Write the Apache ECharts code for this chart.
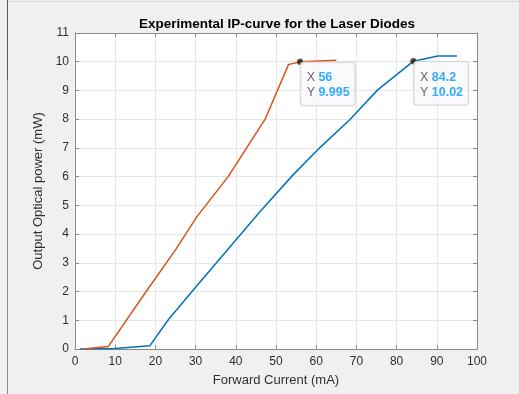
<!DOCTYPE html>
<html>
<head>
<meta charset="utf-8">
<script src="https://cdn.jsdelivr.net/npm/echarts@6/dist/echarts.min.js"></script>
<style>
html,body{margin:0;padding:0;background:#f0f0f0;}
#c{width:519px;height:394px;}
</style>
</head>
<body>
<div id="c"></div>
<script>
// ---- data ----
var titleText = 'Experimental IP-curve for the Laser Diodes';
var xName = 'Forward Current (mA)';
var yName = 'Output Optical power (mW)';

var blueX = [1.2, 10, 18.6, 23.2, 30, 38, 46, 54.3, 61, 68.4, 75.3, 84.2, 90.3, 95];
var blueY = [0, 0.02, 0.11, 1.02, 2.15, 3.46, 4.78, 6.07, 7.02, 7.99, 9.02, 10.02, 10.2, 10.2];

var orangeX = [2, 8.3, 17.4, 25, 30.3, 38.1, 42.7, 47.3, 53.1, 56, 65];
var orangeY = [0, 0.09, 1.94, 3.45, 4.6, 6.0, 7.0, 8.0, 9.9, 9.995, 10.05];

var tipBlue = [84.2, 10.02];
var tipOrange = [56, 9.995];

var blueColor = '#0072BD';
var orangeColor = '#D95319';

function pairs(xs, ys){ return xs.map(function(x,i){ return [x, ys[i]]; }); }

var chart = echarts.init(document.getElementById('c'), null, {renderer:'canvas'});

var axisColor = '#8a8a8a';
var labelColor = '#303030';
var fontFam = '"Liberation Sans", Arial, Helvetica, sans-serif';

function tipLabel(){
  return {
    show: true,
    position: [4, 4],
    formatter: function(p){
      return '{k|X} {v|' + p.value[0] + '}\n{k|Y} {v|' + p.value[1] + '}';
    },
    backgroundColor: '#f9f9fc',
    borderColor: '#c9c9c9',
    borderWidth: 1,
    borderRadius: 3,
    padding: [8, 5, 5, 6],
    lineHeight: 15,
    rich: {
      k: { color: '#404040', fontSize: 12.5, fontFamily: fontFam, lineHeight: 15 },
      v: { color: '#0096FF', fontSize: 12.5, fontWeight: 'bold', fontFamily: fontFam, lineHeight: 15 }
    }
  };
}

var option = {
  backgroundColor: '#f0f0f0',
  animation: false,
  title: {
    text: titleText,
    left: 134, top: 12,
    textStyle: { fontSize: 13.5, fontWeight: 'bold', color: '#000', fontFamily: fontFam }
  },
  grid: { left: 75, right: 42, top: 33, bottom: 45, show: true, backgroundColor: '#ffffff', borderWidth: 0 },
  xAxis: [{
    type: 'value', min: 0, max: 100, interval: 10,
    name: xName, nameLocation: 'middle', nameGap: 25,
    nameTextStyle: { fontSize: 13, color: labelColor, fontFamily: fontFam },
    axisLine: { show: true, onZero: false, lineStyle: { color: axisColor, width: 1 } },
    axisTick: { show: true, inside: true, length: 4, lineStyle: { color: axisColor } },
    axisLabel: { color: labelColor, fontSize: 12, margin: 7, fontFamily: fontFam },
    splitLine: { show: true, lineStyle: { color: '#e6e6e6', width: 1 } }
  }, {
    type: 'value', position: 'top', min: 0, max: 100, interval: 10,
    axisLine: { show: true, onZero: false, lineStyle: { color: axisColor, width: 1 } },
    axisTick: { show: true, inside: true, length: 4, lineStyle: { color: axisColor } },
    axisLabel: { show: false }, splitLine: { show: false }
  }],
  yAxis: [{
    type: 'value', min: 0, max: 11, interval: 1,
    name: yName, nameLocation: 'middle', nameGap: 21,
    nameTextStyle: { fontSize: 13, color: labelColor, fontFamily: fontFam },
    axisLine: { show: true, onZero: false, lineStyle: { color: axisColor, width: 1 } },
    axisTick: { show: true, inside: true, length: 4, lineStyle: { color: axisColor } },
    axisLabel: { color: labelColor, fontSize: 12, margin: 6, fontFamily: fontFam },
    splitLine: { show: true, lineStyle: { color: '#e6e6e6', width: 1 } }
  }, {
    type: 'value', position: 'right', min: 0, max: 11, interval: 1,
    axisLine: { show: true, onZero: false, lineStyle: { color: axisColor, width: 1 } },
    axisTick: { show: true, inside: true, length: 4, lineStyle: { color: axisColor } },
    axisLabel: { show: false }, splitLine: { show: false }
  }],
  series: [{
    type: 'line', data: pairs(blueX, blueY), showSymbol: false, symbol: 'none',
    lineStyle: { color: blueColor, width: 1.5 }, itemStyle: { color: blueColor }, z: 3
  }, {
    type: 'line', data: pairs(orangeX, orangeY), showSymbol: false, symbol: 'none',
    lineStyle: { color: orangeColor, width: 1.5 }, itemStyle: { color: orangeColor }, z: 3
  }, {
    type: 'scatter', data: [tipOrange, tipBlue], symbolSize: 6,
    itemStyle: { color: '#151515', borderColor: '#7a6c1e', borderWidth: 0.8 },
    label: tipLabel(), z: 5
  }],
  graphic: [
    { type: 'line', shape: { x1: 7.5, y1: 0, x2: 7.5, y2: 394 }, style: { stroke: '#8c8c8c', lineWidth: 1 }, silent: true },
    { type: 'line', shape: { x1: 7.5, y1: 0, x2: 7.5, y2: 80 }, style: { stroke: '#5a5a5a', lineWidth: 1 }, silent: true },
    { type: 'line', shape: { x1: 8, y1: 1.5, x2: 519, y2: 1.5 }, style: { stroke: '#d6d6d6', lineWidth: 1 }, silent: true }
  ]
};
chart.setOption(option);
</script>
</body>
</html>
